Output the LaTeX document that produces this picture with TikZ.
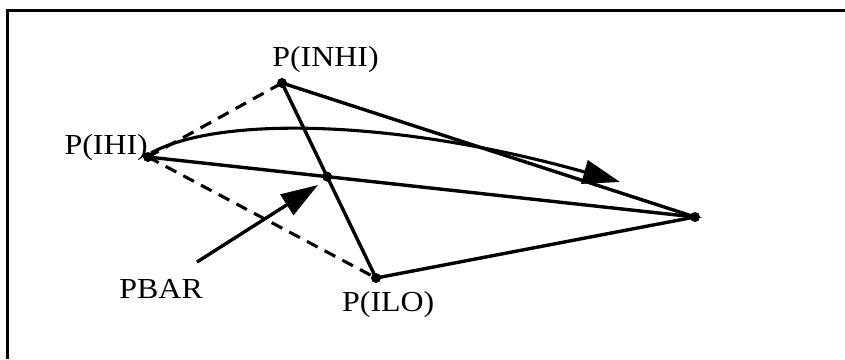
\documentclass[tikz,border=0pt]{standalone}
\usepackage{fontspec}
\setmainfont[FakeStretch=1.1]{Liberation Serif}
\usetikzlibrary{arrows.meta}
\begin{document}
\begin{tikzpicture}[x=1pt,y=-1pt,
  solidline/.style={line width=3.4pt},
  dashline/.style={line width=3.1pt, dash pattern=on 12pt off 8pt},
  dotpt/.style={circle, fill=black, inner sep=0pt, minimum size=10pt},
  lbl/.style={inner sep=0pt, font=\fontsize{29}{33}\selectfont},
  bigarrow/.style={line width=3.4pt, -{Triangle[length=37pt,width=24pt]}}]
\useasboundingbox (0,0) rectangle (845,359);
% frame (top and left edges)
\draw[line width=3pt] (845,10.5) -- (7.5,10.5) -- (7.5,359);
% points
\coordinate (ihi) at (148,157);
\coordinate (inhi) at (282,83);
\coordinate (ilo) at (376,278);
\coordinate (right) at (695,217);
\coordinate (pbar) at (intersection of inhi--ilo and ihi--right);
% dashed edges
\draw[dashline] (ihi) -- (inhi);
\draw[dashline] (ihi) -- (ilo);
% solid edges
\draw[solidline] (inhi) -- (right) -- (ilo);
\draw[solidline] (ihi) -- (right);
\draw[solidline] (inhi) -- (ilo);
% dots
\node[dotpt] (dihi) at (ihi) {};
\node[dotpt] (dinhi) at (inhi) {};
\node[dotpt] (dilo) at (ilo) {};
\node[dotpt] (dright) at (right) {};
\node[dotpt] (dpbar) at (pbar) {};
% curved arrow
\coordinate (cstart) at (151,153);
\coordinate (ctip) at (620,182);
\draw[bigarrow, line width=3.1pt] (cstart) .. controls (220,115) and (400,120) .. (ctip);
% PBAR arrow
\coordinate (ptail) at (197,262);
\coordinate (ptip) at (318,185);
\draw[bigarrow] (ptail) -- (ptip);
% labels
\node[lbl, anchor=base] (tinhi) at (325.5,66.5) {P(INHI)};
\node[lbl, anchor=base east] (tihi) at (148,154) {P(IHI)};
\node[lbl, anchor=base east] (tpbar) at (203,298) {PBAR};
\node[lbl, anchor=base west] (tilo) at (342,311.5) {P(ILO)};
\end{tikzpicture}
\end{document}
